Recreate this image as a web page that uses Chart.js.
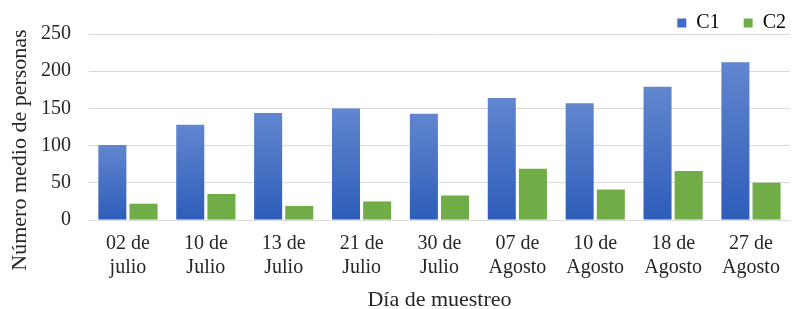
<!DOCTYPE html>
<html>
<head>
<meta charset="utf-8">
<script src="https://cdn.jsdelivr.net/npm/chart.js@4/dist/chart.umd.min.js"></script>
<style>
  html, body { margin: 0; padding: 0; background: #fff; }
  #wrap { width: 792px; height: 309px; }
</style>
</head>
<body>
<div id="wrap"><canvas id="muestreoChart"></canvas></div>
<script>
var labels = [
    ['02 de', 'julio'], ['10 de', 'Julio'], ['13 de', 'Julio'], ['21 de', 'Julio'], ['30 de', 'Julio'],
    ['07 de', 'Agosto'], ['10 de', 'Agosto'], ['18 de', 'Agosto'], ['27 de', 'Agosto']
];
var c1 = [101, 128, 144, 150, 143, 164, 157, 179, 212];
var c2 = [22, 35, 19, 25, 33, 69, 41, 66, 50];

var serif = "'Liberation Serif', 'Times New Roman', serif";
var textColor = '#262626';

// vertical gradient for each blue bar, lighter on top
function blueBar(context) {
    var chart = context.chart;
    var y = chart.scales && chart.scales.y;
    if (!y || context.raw === undefined) return '#4472C4';
    var top = y.getPixelForValue(context.raw);
    var bottom = y.getPixelForValue(0);
    if (!isFinite(top) || !isFinite(bottom) || top === bottom) return '#4472C4';
    var g = chart.ctx.createLinearGradient(0, top, 0, bottom);
    g.addColorStop(0, '#6286CF');
    g.addColorStop(1, '#2D5DB9');
    return g;
}

// legend sits close to the plot, so trim the extra space Chart.js adds below it
var legendTrim = {
    id: 'legendTrim',
    beforeInit: function (chart) {
        var fit = chart.legend.fit;
        chart.legend.fit = function () {
            fit.bind(chart.legend)();
            this.height -= 9;
        };
    }
};

// y title sits lower than the plot centre in the original, so draw it by hand
var yTitle = {
    id: 'yTitle',
    afterDraw: function (chart) {
        var c = chart.ctx;
        c.save();
        c.translate(20, 150);
        c.rotate(-Math.PI / 2);
        c.font = '22px ' + serif;
        c.fillStyle = textColor;
        c.textAlign = 'center';
        c.textBaseline = 'middle';
        c.fillText('Número medio de personas', 0, 0);
        c.restore();
    }
};

var ctx = document.getElementById('muestreoChart').getContext('2d');
var myChart = new Chart(ctx, {
    type: 'bar',
    data: {
        labels: labels,
        datasets: [{
            label: 'C1',
            data: c1,
            backgroundColor: blueBar
        }, {
            label: 'C2',
            data: c2,
            backgroundColor: '#70AD47'
        }]
    },
    plugins: [legendTrim, yTitle],
    options: {
        responsive: true,
        maintainAspectRatio: false,
        animation: false,
        layout: { padding: { top: 9, right: 2, left: 23, bottom: 0 } },
        plugins: {
            tooltip: { enabled: false },
            legend: {
                position: 'top',
                align: 'end',
                labels: {
                    font: { family: serif, size: 20 },
                    color: textColor,
                    boxWidth: 9,
                    boxHeight: 9,
                    padding: 4,
                    generateLabels: function (chart) {
                        var cols = ['#3F6CC6', '#70AD47'];
                        return chart.data.datasets.map(function (ds, i) {
                            var t = i === 0 ? ds.label + '    ' : ds.label;
                            return { text: t, fillStyle: cols[i], strokeStyle: cols[i], lineWidth: 0, datasetIndex: i };
                        });
                    }
                }
            }
        },
        scales: {
            x: {
                grid: { display: false, drawTicks: false },
                border: { display: false },
                ticks: {
                    font: { family: serif, size: 20, lineHeight: 1.2 },
                    color: textColor,
                    maxRotation: 0,
                    padding: 12
                },
                title: {
                    display: true,
                    text: 'Día de muestreo',
                    font: { family: serif, size: 22, lineHeight: 0.77 },
                    color: textColor,
                    padding: { top: 0, bottom: 0 }
                }
            },
            y: {
                min: 0,
                max: 250,
                ticks: {
                    stepSize: 50,
                    font: { family: serif, size: 20 },
                    color: textColor,
                    padding: 18
                },
                grid: { color: '#D9D9D9', drawTicks: false },
                border: { display: false }
            }
        }
    }
});
</script>
</body>
</html>
